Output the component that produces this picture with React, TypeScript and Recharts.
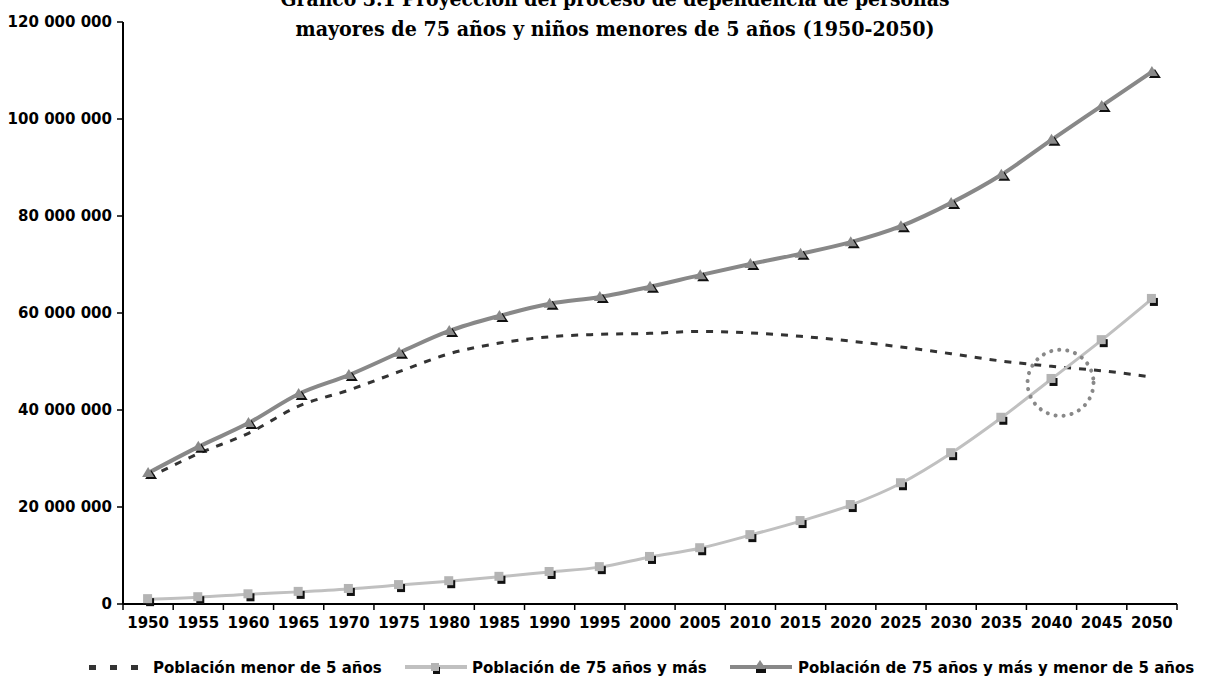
import React from 'react';
import { LineChart, Line, XAxis, YAxis, ReferenceDot } from 'recharts';

// Proyección de dependencia (personas)
const years = ['1950', '1955', '1960', '1965', '1970', '1975', '1980', '1985', '1990', '1995', '2000',
    '2005', '2010', '2015', '2020', '2025', '2030', '2035', '2040', '2045', '2050'];

const menor5 = [26.0, 31.0, 35.2, 40.8, 44.1, 47.9, 51.6, 53.8, 55.1, 55.6, 55.8,
    56.2, 55.9, 55.2, 54.2, 53.0, 51.6, 50.1, 49.0, 48.1, 46.8].map((v) => v * 1e6);

const mayor75 = [1.0, 1.4, 2.0, 2.5, 3.1, 3.9, 4.7, 5.6, 6.6, 7.6, 9.7,
    11.5, 14.2, 17.1, 20.4, 24.9, 31.1, 38.4, 46.4, 54.4, 62.9].map((v) => v * 1e6);

const total = [27.0, 32.4, 37.3, 43.3, 47.2, 51.8, 56.3, 59.4, 61.9, 63.3, 65.4,
    67.8, 70.1, 72.2, 74.6, 77.9, 82.7, 88.5, 95.7, 102.7, 109.7].map((v) => v * 1e6);

const yTicks = [0, 20e6, 40e6, 60e6, 80e6, 100e6, 120e6];

const titleLines = [
    'Gráfico 3.1 Proyección del proceso de dependencia de personas',
    'mayores de 75 años y niños menores de 5 años (1950-2050)',
];

const seriesNames = {
    menor5: 'Población menor de 5 años',
    mayor75: 'Población de 75 años y más',
    total: 'Población de 75 años y más y menor de 5 años',
};

// circled crossing point
const crossYear = '2040';
const crossValue = 45.6e6;

const data = years.map((year, i) => ({
    year,
    menor5: menor5[i],
    mayor75: mayor75[i],
    total: total[i],
}));

const font = '"DejaVu Sans", sans-serif';

const fmt = (v: number) => String(v).replace(/\B(?=(\d{3})+(?!\d))/g, ' ');

const SquareDot = (props: any) => {
    const { cx, cy, index } = props;
    if (cx == null || cy == null) return null;
    return (
        <g key={'sq' + index}>
            <rect x={cx - 2} y={cy - 1} width={8} height={8} fill="#111" />
            <rect x={cx - 5} y={cy - 5} width={9} height={9} fill="#b4b4b4" />
        </g>
    );
};

const TriangleDot = (props: any) => {
    const { cx, cy, index } = props;
    if (cx == null || cy == null) return null;
    return (
        <g key={'tr' + index}>
            <path d={`M${cx + 3},${cy - 3} L${cx + 9},${cy + 6} L${cx - 3},${cy + 6} Z`} fill="#111" />
            <path d={`M${cx},${cy - 6} L${cx + 6},${cy + 4} L${cx - 6},${cy + 4} Z`} fill="#8a8a8a" />
        </g>
    );
};

const XTick = (props: any) => {
    const { x, y, payload, index, visibleTicksCount } = props;
    const half = payload && payload.offset ? payload.offset : 25;
    const last = index === visibleTicksCount - 1;
    return (
        <g>
            <line x1={x - half} x2={x - half} y1={y} y2={y + 6} stroke="#000" strokeWidth={1.5} />
            {last && <line x1={x + half} x2={x + half} y1={y} y2={y + 6} stroke="#000" strokeWidth={1.5} />}
            <text x={x} y={y + 24} textAnchor="middle" fontFamily={font} fontWeight="bold" fontSize={15} fill="#000">
                {payload.value}
            </text>
        </g>
    );
};

const LegendRow = () => (
    <svg width={1206} height={26} style={{ position: 'absolute', left: 0, top: 654 }}>
        <g fontFamily={font} fontWeight="bold" fontSize={15} fill="#000">
            <rect x={89} y={11} width={7} height={5} fill="#333" />
            <rect x={110} y={11} width={7} height={5} fill="#333" />
            <rect x={131} y={11} width={7} height={5} fill="#333" />
            <text x={153} y={19}>{seriesNames.menor5}</text>

            <line x1={405} x2={467} y1={13} y2={13} stroke="#c0c0c0" strokeWidth={4} />
            <rect x={433} y={13} width={7} height={7} fill="#111" />
            <rect x={431} y={9} width={8} height={8} fill="#b4b4b4" />
            <text x={472} y={19}>{seriesNames.mayor75}</text>

            <line x1={730} x2={792} y1={13} y2={13} stroke="#888" strokeWidth={4} />
            <rect x={756} y={14} width={10} height={5} fill="#111" />
            <path d="M760,6 L766,15 L754,15 Z" fill="#8a8a8a" />
            <text x={798} y={19}>{seriesNames.total}</text>
        </g>
    </svg>
);

const App = () => {
    return (
        <div style={{ position: 'relative', width: 1206, height: 677, background: '#fff' }}>
            <style>{'body{margin:0}'}</style>
            <LineChart
                width={1206}
                height={677}
                data={data}
                margin={{ top: 22, right: 29, left: 0, bottom: 33 }}
            >
                <XAxis
                    dataKey="year"
                    scale="band"
                    height={40}
                    tickLine={false}
                    tickSize={0}
                    tickMargin={0}
                    axisLine={{ stroke: '#000', strokeWidth: 2 }}
                    tick={<XTick />}
                    interval={0}
                />
                <YAxis
                    width={123}
                    domain={[0, 120e6]}
                    ticks={yTicks}
                    tickFormatter={fmt}
                    tickSize={6}
                    tickMargin={5}
                    axisLine={{ stroke: '#000', strokeWidth: 2 }}
                    tickLine={{ stroke: '#000', strokeWidth: 1.5 }}
                    tick={{ fontFamily: font, fontWeight: 'bold', fontSize: 15, fill: '#000' }}
                />
                <Line
                    type="monotone"
                    dataKey="menor5"
                    name={seriesNames.menor5}
                    stroke="#333"
                    strokeWidth={3}
                    strokeDasharray="7 8"
                    dot={false}
                    isAnimationActive={false}
                />
                <Line
                    type="monotone"
                    dataKey="mayor75"
                    name={seriesNames.mayor75}
                    stroke="#c0c0c0"
                    strokeWidth={3}
                    dot={<SquareDot />}
                    isAnimationActive={false}
                />
                <Line
                    type="monotone"
                    dataKey="total"
                    name={seriesNames.total}
                    stroke="#888"
                    strokeWidth={4}
                    dot={<TriangleDot />}
                    isAnimationActive={false}
                />
                <ReferenceDot
                    x={crossYear}
                    y={crossValue}
                    r={33}
                    shape={(p: any) => (
                        <circle
                            cx={p.cx + 9}
                            cy={p.cy}
                            r={33}
                            fill="none"
                            stroke="#888"
                            strokeWidth={4}
                            strokeLinecap="round"
                            strokeDasharray="0.1 8"
                        />
                    )}
                />
            </LineChart>
            <svg width={1206} height={45} style={{ position: 'absolute', left: 0, top: 0 }}>
                <g fontFamily='"DejaVu Serif", serif' fontWeight="bold" fontSize={20} fill="#000" textAnchor="middle">
                    <text x={615} y={6} textLength={669} lengthAdjust="spacingAndGlyphs">{titleLines[0]}</text>
                    <text x={615} y={36} textLength={639} lengthAdjust="spacingAndGlyphs">{titleLines[1]}</text>
                </g>
            </svg>
            <LegendRow />
        </div>
    );
};

export default App;
